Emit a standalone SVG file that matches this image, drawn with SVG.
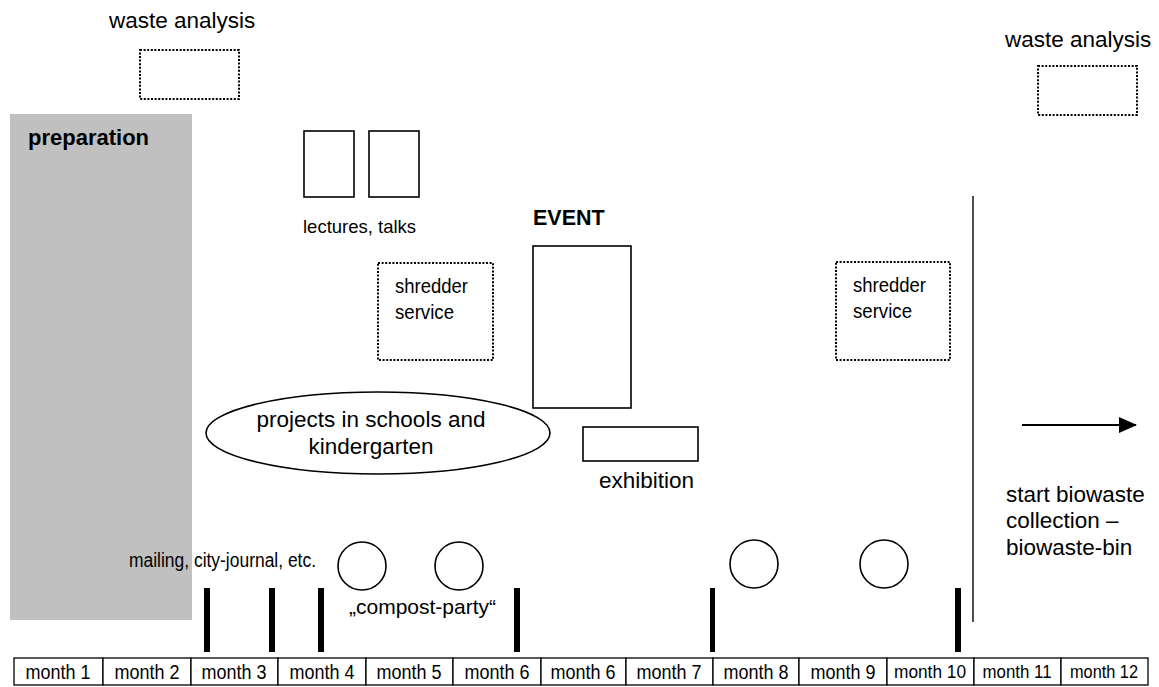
<svg xmlns="http://www.w3.org/2000/svg" width="1159" height="687" viewBox="0 0 1159 687">
<style>
.t{font-family:"Liberation Sans",Arial,sans-serif;font-size:22.5px;fill:#000}
.b{font-family:"Liberation Sans",Arial,sans-serif;font-weight:bold;fill:#000}
.n{font-family:"Liberation Sans Narrow","Liberation Sans",Arial,sans-serif;fill:#000}
.solid{fill:#fff;stroke:#000;stroke-width:1.6}
.dot{fill:#fff;stroke:#000;stroke-width:2;stroke-dasharray:2 1.6}
.bar{fill:#000}
.cell{fill:#fff;stroke:#000;stroke-width:1.3}
</style>
<defs>
<marker id="ah" markerWidth="18" markerHeight="16" refX="17" refY="8" orient="auto" markerUnits="userSpaceOnUse"><path d="M0,0 L18,8 L0,16 Z" fill="#000"/></marker>
</defs>
<rect width="1159" height="687" fill="#fff"/>

<g id="preparation">
<rect x="10" y="114" width="182" height="506" fill="#c0c0c0"/>
<text class="b" x="28" y="145" font-size="22">preparation</text>
</g>

<g id="waste-analysis-1">
<text class="t" x="109" y="28">waste analysis</text>
<rect class="dot" x="140" y="50" width="99" height="49"/>
</g>
<g id="waste-analysis-2">
<text class="t" x="1005" y="47">waste analysis</text>
<rect class="dot" x="1038" y="66" width="99" height="49"/>
</g>

<g id="lectures">
<rect class="solid" x="304" y="131" width="50" height="66"/>
<rect class="solid" x="369" y="131" width="50" height="66"/>
<text class="t" x="303" y="233" style="font-size:18.5px">lectures, talks</text>
</g>

<g id="shredder-1">
<rect class="dot" x="378" y="263" width="115" height="97"/>
<text class="n" x="395" y="293" font-size="21" textLength="73" lengthAdjust="spacingAndGlyphs">shredder</text>
<text class="n" x="395" y="319" font-size="21" textLength="59" lengthAdjust="spacingAndGlyphs">service</text>
</g>
<g id="shredder-2">
<rect class="dot" x="836" y="262" width="114" height="98"/>
<text class="n" x="853" y="292" font-size="21" textLength="73" lengthAdjust="spacingAndGlyphs">shredder</text>
<text class="n" x="853" y="318" font-size="21" textLength="59" lengthAdjust="spacingAndGlyphs">service</text>
</g>

<g id="event">
<text class="b" x="533" y="225" font-size="21.5">EVENT</text>
<rect class="solid" x="533" y="246" width="98" height="162"/>
</g>

<g id="exhibition">
<rect class="solid" x="583" y="427" width="115" height="34"/>
<text class="t" x="599" y="488">exhibition</text>
</g>

<g id="projects">
<ellipse class="solid" cx="378" cy="433" rx="172" ry="41"/>
<text class="t" x="371" y="427" text-anchor="middle">projects in schools and</text>
<text class="t" x="371" y="454" text-anchor="middle">kindergarten</text>
</g>

<g id="mailing">
<text class="n" x="129" y="567" font-size="20" textLength="187" lengthAdjust="spacingAndGlyphs">mailing, city-journal, etc.</text>
</g>

<g id="compost-party">
<circle class="solid" cx="362" cy="566" r="24"/>
<circle class="solid" cx="459" cy="566" r="24"/>
<circle class="solid" cx="754" cy="564" r="24"/>
<circle class="solid" cx="884" cy="564" r="24"/>
<text class="t" x="349" y="614" style="font-size:21px">„compost-party“</text>
</g>

<g id="milestones">
<rect class="bar" x="204" y="588" width="6" height="64"/>
<rect class="bar" x="269" y="588" width="6" height="64"/>
<rect class="bar" x="318" y="588" width="6" height="64"/>
<rect class="bar" x="514" y="588" width="6" height="64"/>
<rect class="bar" x="710" y="588" width="5" height="64"/>
<rect class="bar" x="955" y="588" width="6" height="64"/>
</g>

<g id="start-collection">
<text class="t" x="1006" y="502">start biowaste</text>
<text class="t" x="1006" y="528">collection –</text>
<text class="t" x="1006" y="555">biowaste-bin</text>
</g>

<g id="connectors">
<line x1="973" y1="196" x2="973" y2="622" stroke="#222" stroke-width="1.6"/>
<line x1="1022" y1="425" x2="1136" y2="425" stroke="#000" stroke-width="2" marker-end="url(#ah)"/>
</g>

<g id="months">
<rect class="cell" x="14" y="658" width="89" height="27"/>
<rect class="cell" x="103" y="658" width="88" height="27"/>
<rect class="cell" x="191" y="658" width="87" height="27"/>
<rect class="cell" x="278" y="658" width="88" height="27"/>
<rect class="cell" x="366" y="658" width="87" height="27"/>
<rect class="cell" x="453" y="658" width="88" height="27"/>
<rect class="cell" x="541" y="658" width="85" height="27"/>
<rect class="cell" x="626" y="658" width="87" height="27"/>
<rect class="cell" x="713" y="658" width="86" height="27"/>
<rect class="cell" x="799" y="658" width="88" height="27"/>
<rect class="cell" x="887" y="658" width="87" height="27"/>
<rect class="cell" x="974" y="658" width="87" height="27"/>
<rect class="cell" x="1061" y="658" width="87" height="27"/>
<g class="n" font-size="20" text-anchor="middle">
<text x="58" y="679" textLength="65" lengthAdjust="spacingAndGlyphs">month 1</text>
<text x="147" y="679" textLength="65" lengthAdjust="spacingAndGlyphs">month 2</text>
<text x="234" y="679" textLength="65" lengthAdjust="spacingAndGlyphs">month 3</text>
<text x="322" y="679" textLength="65" lengthAdjust="spacingAndGlyphs">month 4</text>
<text x="409" y="679" textLength="65" lengthAdjust="spacingAndGlyphs">month 5</text>
<text x="497" y="679" textLength="65" lengthAdjust="spacingAndGlyphs">month 6</text>
<text x="583" y="679" textLength="65" lengthAdjust="spacingAndGlyphs">month 6</text>
<text x="669" y="679" textLength="65" lengthAdjust="spacingAndGlyphs">month 7</text>
<text x="756" y="679" textLength="65" lengthAdjust="spacingAndGlyphs">month 8</text>
<text x="843" y="679" textLength="65" lengthAdjust="spacingAndGlyphs">month 9</text>
<text x="930" y="678" font-size="19" textLength="72" lengthAdjust="spacingAndGlyphs">month 10</text>
<text x="1017" y="678" font-size="19" textLength="69" lengthAdjust="spacingAndGlyphs">month 11</text>
<text x="1104" y="678" font-size="19" textLength="68" lengthAdjust="spacingAndGlyphs">month 12</text>
</g>
</g>
</svg>
